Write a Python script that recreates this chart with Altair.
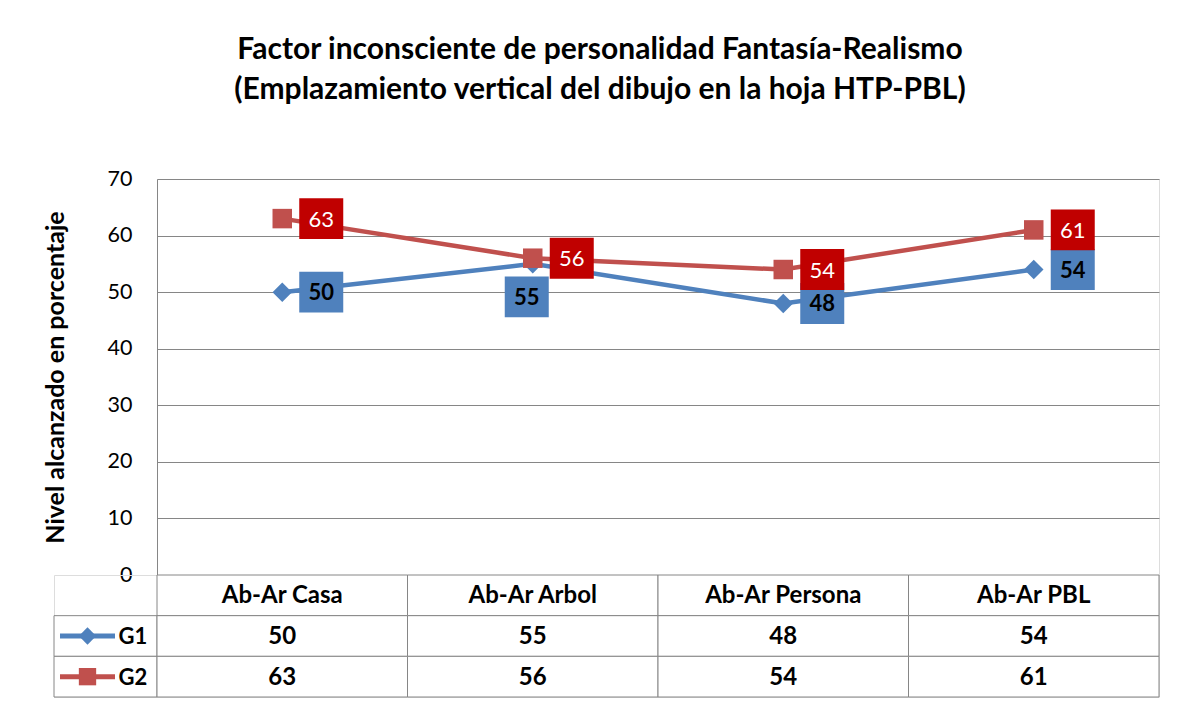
import altair as alt
import pandas as pd

# ---- data ----
categories = ["Ab-Ar Casa", "Ab-Ar Arbol", "Ab-Ar Persona", "Ab-Ar PBL"]
series_names = ["G1", "G2"]
g1_values = [50, 55, 48, 54]
g2_values = [63, 56, 54, 61]
y_ticks = [0, 10, 20, 30, 40, 50, 60, 70]
title_lines = [
    "Factor inconsciente de personalidad Fantasía-Realismo",
    "(Emplazamiento vertical del dibujo en la hoja HTP-PBL)",
]
y_title = "Nivel  alcanzado en porcentaje"

# ---- tables built from the arrays ----
rows = []
for s, vals in zip(series_names, [g1_values, g2_values]):
    for i, (c, v) in enumerate(zip(categories, vals)):
        rows.append({"cat": c, "serie": s, "valor": v, "idx": i})
df = pd.DataFrame(rows)

table_rows = []
for c in categories:
    table_rows.append({"cat": c, "fila": "hdr", "texto": c})
for s, vals in zip(series_names, [g1_values, g2_values]):
    for c, v in zip(categories, vals):
        table_rows.append({"cat": c, "fila": s, "texto": str(v)})
df_table = pd.DataFrame(table_rows)

df_leg = pd.DataFrame({"k": ["k"] * len(series_names), "fila": series_names, "serie": series_names})

# ---- styling ----
W, H, LW, TH = 1002, 396, 103, 122
FONT = "Lato"
GRID = "#868686"
line_colors = ["#4F81BD", "#C0504D"]
box_colors = ["#4F81BD", "#C00000"]
BOX = "M-1,-0.93H1V0.93H-1Z"
SEG = "M-1,-0.09H1V0.09H-1Z"

xscale = alt.Scale(type="band", domain=categories, paddingInner=0, paddingOuter=0)
yscale = alt.Scale(domain=[0, 70], nice=False)
color = alt.Color("serie:N", scale=alt.Scale(domain=series_names, range=line_colors), legend=None)

base = alt.Chart(df).encode(
    x=alt.X("cat:N", scale=xscale, axis=None),
    y=alt.Y(
        "valor:Q",
        scale=yscale,
        axis=alt.Axis(
            values=y_ticks, title=y_title, grid=True, gridColor=GRID, gridWidth=1,
            domainColor=GRID, ticks=False, labelPadding=25, labelFontSize=21.5,
            labelFont=FONT, labelColor="black", titleFont=FONT, titleFontSize=25,
            titleFontWeight="bold", titlePadding=39, titleColor="black",
        ),
    ),
)

lines = base.mark_line(strokeWidth=4.5).encode(color=color, order="idx:Q")
pts1 = base.transform_filter("datum.serie == 'G1'").mark_point(
    shape="diamond", filled=True, size=380, opacity=1, color=line_colors[0])
pts2 = base.transform_filter("datum.serie == 'G2'").mark_point(
    shape="square", filled=True, size=380, opacity=1, color=line_colors[1])

g1_right = base.transform_filter("datum.serie == 'G1' && datum.cat != 'Ab-Ar Arbol'")
g1_below = base.transform_filter("datum.serie == 'G1' && datum.cat == 'Ab-Ar Arbol'")
g2_lab = base.transform_filter("datum.serie == 'G2'")

lab_layers = []
for b, dx, dy in [(g1_right, 39, 0), (g1_below, -6, 33)]:
    lab_layers.append(b.mark_point(shape=BOX, size=1936, filled=True, opacity=1,
                                   color=box_colors[0], xOffset=dx, yOffset=dy))
    lab_layers.append(b.mark_text(font=FONT, fontSize=22, fontWeight="bold", color="black",
                                  xOffset=dx, yOffset=dy + 1).encode(text="valor:Q"))
lab_layers.append(g2_lab.mark_point(shape=BOX, size=1936, filled=True, opacity=1,
                                    color=box_colors[1], xOffset=39))
lab_layers.append(g2_lab.mark_text(font=FONT, fontSize=22, color="white",
                                   xOffset=39, yOffset=1).encode(text="valor:Q"))

top = alt.layer(lines, pts1, pts2, *lab_layers).properties(
    width=W, height=H,
    title=alt.TitleParams(
        title_lines, font=FONT, fontSize=30, fontWeight="bold", color="black",
        lineHeight=40, anchor="middle", frame="group", offset=63, dx=-58,
    ),
)

# ---- data table under the plot ----
row_scale = alt.Scale(type="band", domain=["hdr"] + series_names, paddingInner=0, paddingOuter=0)
tbase = alt.Chart(df_table).encode(
    x=alt.X("cat:N", scale=xscale, axis=None),
    y=alt.Y("fila:N", scale=row_scale, axis=None),
)
cells = tbase.mark_rect(fill="white", stroke=GRID, strokeWidth=1)
ttext = tbase.mark_text(font=FONT, fontSize=24, fontWeight="bold", color="black", dy=1).encode(text="texto:N")
table = alt.layer(cells, ttext).properties(width=W, height=TH)

# ---- legend column of the table ----
lbase = alt.Chart(df_leg).encode(
    x=alt.X("k:N", scale=alt.Scale(type="band", paddingInner=0, paddingOuter=0), axis=None),
    y=alt.Y("fila:N", scale=row_scale, axis=None),
)
lcells = lbase.mark_rect(fill="white", stroke=GRID, strokeWidth=1)
lseg = lbase.mark_point(shape=SEG, size=3025, filled=True, opacity=1, xOffset=-18).encode(color=color)
lmark = lbase.mark_point(filled=True, size=300, opacity=1, xOffset=-18).encode(
    color=color,
    shape=alt.Shape("serie:N", scale=alt.Scale(domain=series_names, range=["diamond", "square"]), legend=None),
)
ltext = lbase.mark_text(font=FONT, fontSize=22, fontWeight="bold", color="black", align="left", dx=13, dy=1).encode(
    text="serie:N")
legcol = alt.layer(lcells, lseg, lmark, ltext).properties(width=LW, height=TH)

spacer = alt.Chart(pd.DataFrame({"a": [0]})).mark_point(opacity=0).properties(width=LW, height=H)

chart = alt.concat(spacer, top, legcol, table, columns=2, spacing=0, bounds="flush").properties(
    padding={"left": 34, "top": 26, "right": 5, "bottom": 5},
).configure_view(stroke=None, fill=None).configure(background="white")

chart.save("out.html", embed_options={"renderer": "svg", "actions": False})
